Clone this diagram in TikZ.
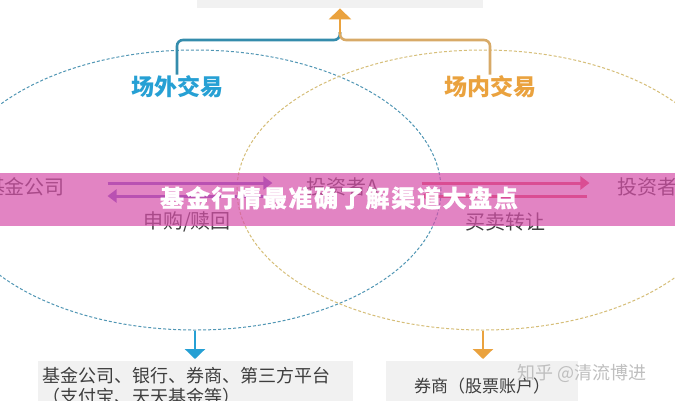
\documentclass[tikz,border=0pt]{standalone}
\usepackage{fontspec}
\setmainfont{Noto Sans CJK SC}
\newfontfamily\titlefont{Noto Sans CJK SC}[LetterSpace=7,BoldFeatures={FakeBold=0.6}]
\usetikzlibrary{arrows.meta,positioning,shapes.geometric}

\definecolor{waiblue}{RGB}{38,160,212}
\definecolor{neiorange}{RGB}{234,162,62}
\definecolor{forkblue}{RGB}{52,140,172}
\definecolor{forktan}{RGB}{216,170,104}
\definecolor{ringblue}{RGB}{80,150,180}
\definecolor{ringtan}{RGB}{214,190,120}
\definecolor{bandpink}{RGB}{215,80,170}
\definecolor{flowpurple}{RGB}{115,85,200}
\definecolor{flowred}{RGB}{228,70,95}
\definecolor{boxgray}{RGB}{241,241,241}
\definecolor{textgray}{RGB}{62,62,62}

\begin{document}
\begin{tikzpicture}[x=1pt,y=-1pt,
  ring/.style={ellipse,inner sep=0pt,minimum width=492pt,minimum height=280pt,
    dashed,dash pattern=on 3pt off 2pt,line width=1pt},
  market/.style={font=\bfseries\fontsize{23}{23}\selectfont,inner sep=1pt},
  flowtext/.style={text=textgray,font=\fontsize{20}{20}\selectfont},
  platbox/.style={fill=boxgray,text=textgray,inner xsep=4pt},
  flow/.style={line width=3pt,-{Triangle[width=13pt,length=9pt]}},
  drop/.style={line width=2.6pt,-{Triangle[width=20pt,length=10pt]}}]
  \useasboundingbox (0,0) rectangle (675,400);
  \clip (0,0) rectangle (675,400);
  \fill[white] (0,0) rectangle (675,400);

  \node[fill=boxgray,minimum width=286pt,minimum height=8pt,inner sep=0pt,anchor=north] (topbox) at (340,0) {};

  % the two rings
  \node[ring,draw=ringblue] (wairing) at (195,190) {};
  \node[ring,draw=ringtan] (neiring) at (483,190) {};

  \node[market,text=waiblue] (wai) at (177,87) {场外交易};
  \node[market,text=neiorange] (nei) at (490,87) {场内交易};
  \coordinate (fork) at (340,40);

  \draw[forkblue,line width=2.6pt,rounded corners=6pt] (wai.north) -- (wai.north |- fork) -- (fork) -- ++(0,-8);
  \draw[forktan,line width=2.6pt,rounded corners=6pt] (nei.north) -- (nei.north |- fork) -- (fork) -- ++(0,-8);
  \draw[neiorange,line width=2.6pt,-{Triangle[width=22pt,length=11pt]}] ([yshift=6pt]fork) -- (topbox.south);

  % flows between the parties
  \node[flowtext] (fundco) at (25,187) {基金公司};
  \node[flowtext] (investa) at (343,187) {投资者A};
  \node[flowtext] (investb) at (647,187) {投资者};
  \node[flowtext] (subscribe) at (187,222) {申购/赎回};
  \node[flowtext] (trade) at (505,222) {买卖转让};

  \draw[flowpurple,flow,shorten <=39pt,shorten >=31pt] ([yshift=4pt]fundco.east) -- ([yshift=4pt]investa.west);
  \draw[flowpurple,flow,shorten <=36pt,shorten >=39pt] ([yshift=-9pt]investa.west) -- ([yshift=-9pt]fundco.east);
  \draw[flowred,flow,shorten <=39pt,shorten >=24pt] ([yshift=4pt]investa.east) -- ([yshift=4pt]investb.west);
  \draw[flowred,flow,shorten <=26pt,shorten >=39pt] ([yshift=-9pt]investb.west) -- ([yshift=-9pt]investa.east);

  \fill[bandpink,opacity=0.7] (0,173) rectangle (675,226);
  \node[text=white,font=\titlefont\bfseries\fontsize{24}{24}\selectfont] (title) at (339,198) {基金行情最准确了解渠道大盘点};

  % where to trade
  \node[platbox,anchor=north west,text width=307pt,align=left,inner ysep=6pt,
    font=\fontsize{18}{21}\selectfont] (platforms) at (38,361)
    {基金公司、银行、券商、第三方平台\\（支付宝、天天基金等）};
  \node[platbox,anchor=north west,minimum width=192pt,minimum height=50pt,
    font=\fontsize{17}{17}\selectfont] (broker) at (386,361) {券商（股票账户）};

  \draw[waiblue,drop,shorten >=2pt] (wairing.south) -- (wairing.south |- platforms.north);
  \draw[neiorange,drop,shorten >=2pt] (neiring.south) -- (neiring.south |- broker.north);

  \node[text=gray!50,font=\fontsize{18}{18}\selectfont] (mark) at (582,373) {知乎 @清流博进};
\end{tikzpicture}
\end{document}
